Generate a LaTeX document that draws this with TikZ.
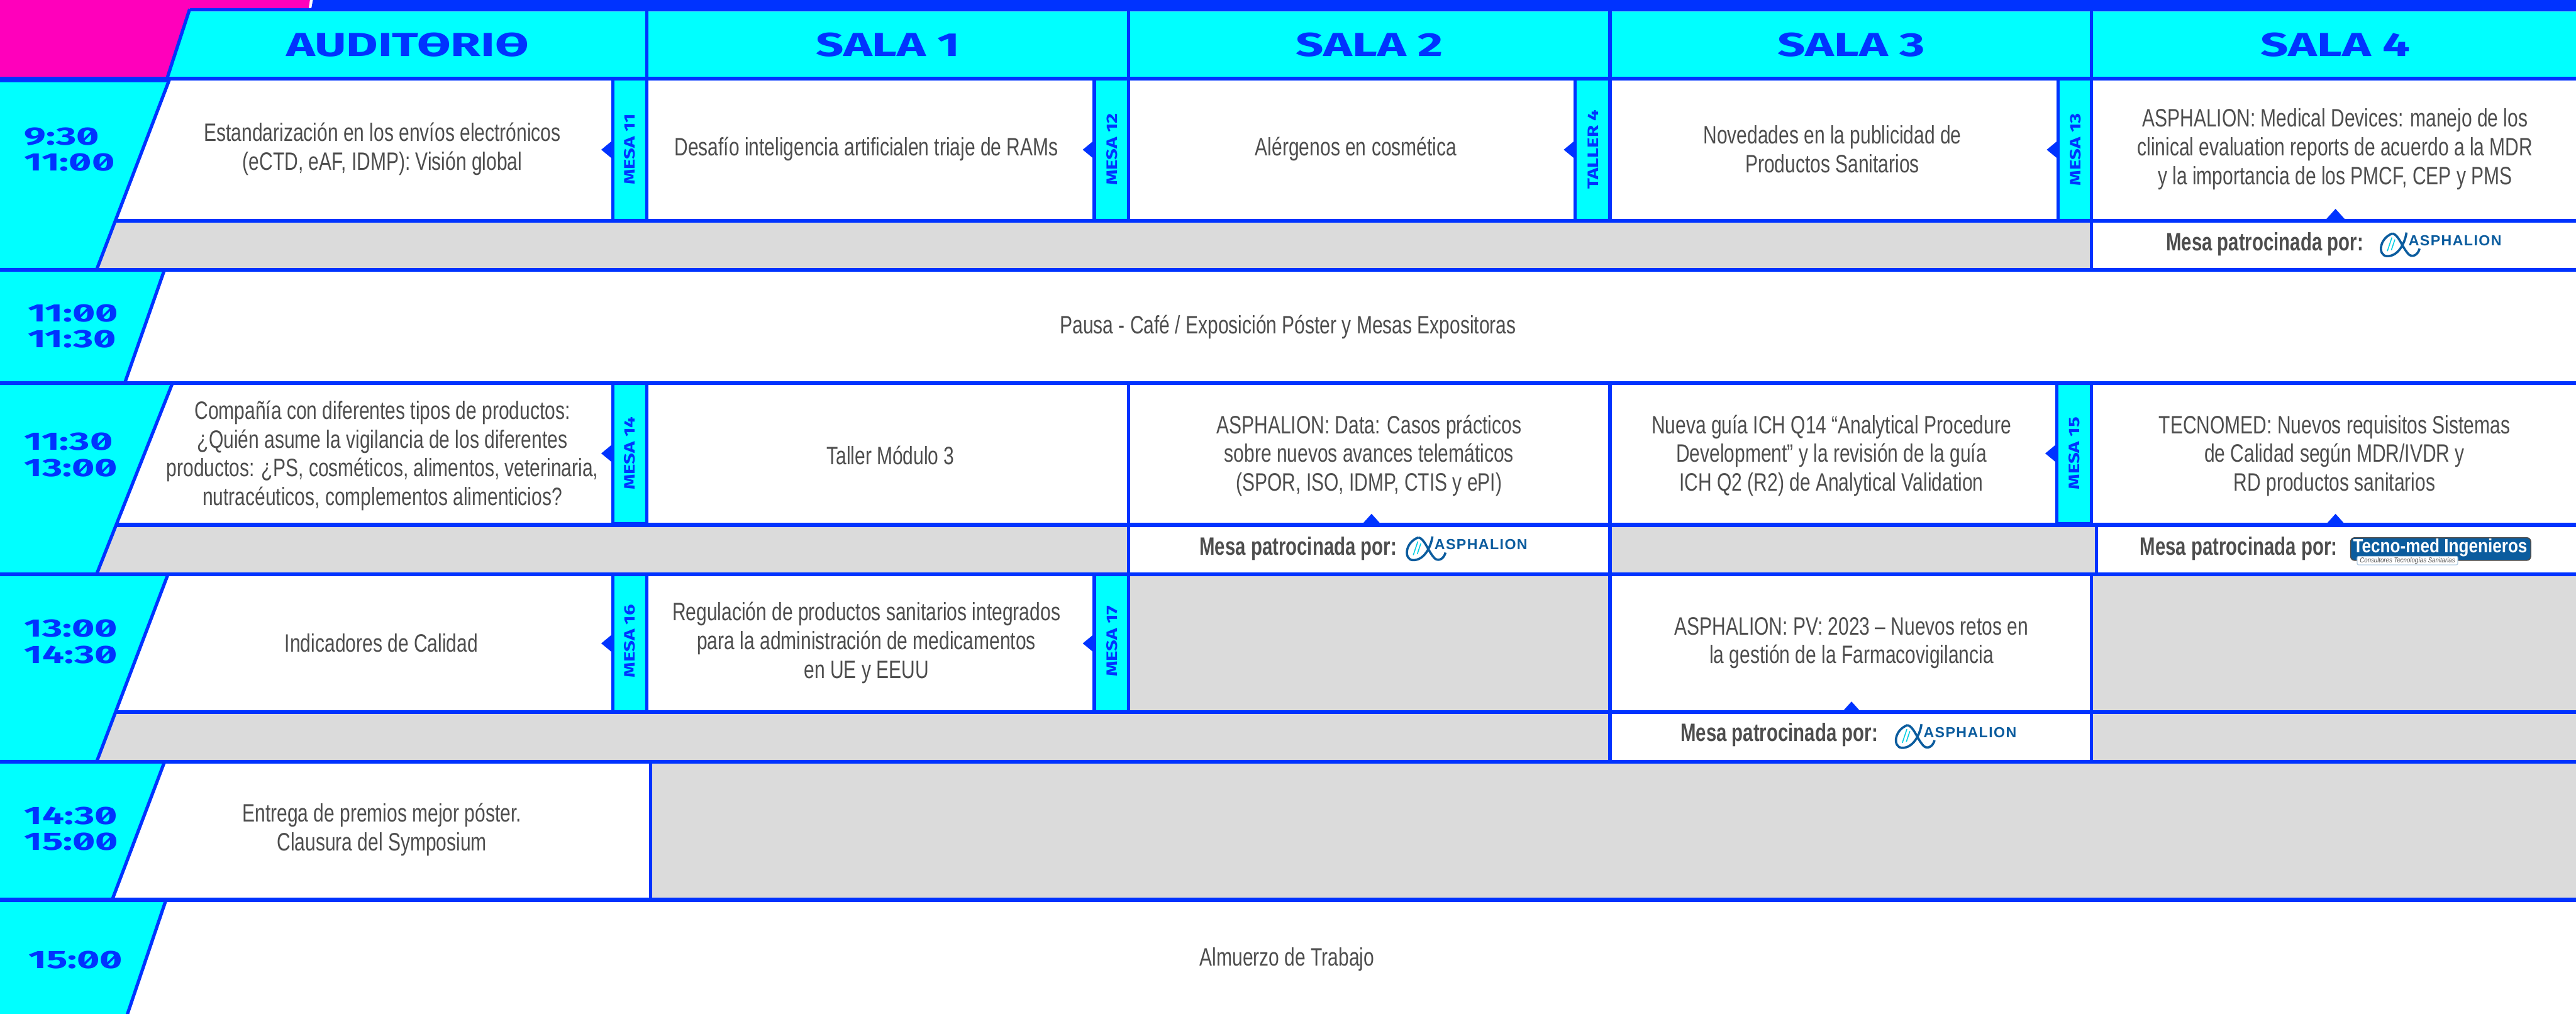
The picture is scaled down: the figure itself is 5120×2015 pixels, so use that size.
\documentclass[tikz,border=0pt]{standalone}
\usepackage{fontspec}
\setmainfont{Liberation Sans}
\newfontfamily\bodyfont[FakeStretch=0.75]{Liberation Sans}
\newfontfamily\sponsfont[FakeStretch=0.735]{Liberation Sans}
\newfontfamily\tecfont[FakeStretch=0.86]{Liberation Sans}
\newfontfamily\brandfont[FakeStretch=1.0,LetterSpace=6]{Liberation Sans}
\newfontfamily\headfont[FakeStretch=1.47]{Fira Sans Bold}
\newfontfamily\hourfont[FakeStretch=1.55]{Fira Sans Bold}
\newfontfamily\mesafont[FakeStretch=1.3]{Fira Sans Bold}
\definecolor{bl}{HTML}{0033FF}
\definecolor{cy}{HTML}{00FFFF}
\definecolor{mg}{HTML}{FF00BB}
\definecolor{gr}{HTML}{DBDBDB}
\definecolor{tx}{HTML}{4D4D4D}
\definecolor{lg}{HTML}{0B5C9E}
\newlength\glw
\newcommand{\zr}{\settowidth{\glw}{0}0\tikz[overlay]\draw[bl,line width=.085em] (-.8\glw,.08em) -- (-.2\glw,.62em);}
\newcommand{\orb}{\settowidth{\glw}{O}O\tikz[overlay]\draw[bl,line width=.085em] (-.9\glw,.345em) -- (-.1\glw,.345em);}
\tikzset{
 x=1pt,y=-1pt,
 hline/.style={draw=bl,line width=8pt},
 vline/.style={draw=bl,line width=6.5pt},
 slant/.style={draw=bl,line width=6.5pt,fill=cy},
 talk/.style={font=\bodyfont\fontsize{50}{57}\selectfont,text=tx,align=center,inner sep=0pt,yshift=-1.5pt},
 spons/.style={font=\sponsfont\bfseries\fontsize{50}{57}\selectfont,text=tx,anchor=west,inner sep=0pt},
 room/.style={font=\headfont\fontsize{66}{66}\selectfont,text=bl,inner sep=0pt},
 hour/.style={font=\hourfont\fontsize{50}{52}\selectfont,text=bl,align=left,inner sep=0pt,anchor=west},
 mesa/.style={font=\mesafont\fontsize{30}{30}\selectfont,text=bl,rotate=90,inner sep=0pt},
 mbox/.style={draw=bl,line width=6.5pt,fill=cy},
 tip/.style={fill=bl,draw=none},
 brand/.style={font=\brandfont\bfseries\fontsize{29}{29}\selectfont,text=lg,inner sep=0pt,anchor=west},
}
\newcommand{\asph}[3]{%
 \draw[lg,line width=4.5pt] (#1+25,#2+2) .. controls (#1+38,#2+4) and (#1+44,#2+30) .. (#1+58,#2+44) .. controls (#1+66,#2+50) and (#1+76,#2+44) .. (#1+79,#2+32);
 \draw[lg,line width=4.5pt] (#1+53,#2+0) .. controls (#1+50,#2+22) and (#1+36,#2+48) .. (#1+14,#2+47) .. controls (#1-4,#2+46) and (#1-2,#2+12) .. (#1+25,#2+2);
 \draw[cy!70!lg,line width=2pt] (#1+15,#2+37) -- (#1+24,#2+10) (#1+23,#2+35) -- (#1+30,#2+14);
 \node[brand] (#3) at (#1+57,#2+16) {ASPHALION};
}
\begin{document}
\begin{tikzpicture}
\useasboundingbox (0,0) rectangle (5120,2015);
\fill[white] (0,0) rectangle (5120,2015);
% top
\fill[mg] (0,0) -- (616,0) -- (613,20) -- (375,20) -- (330,156) -- (0,156) -- cycle;
\fill[bl] (622,0) -- (5120,0) -- (5120,23) -- (375,23) -- (378,16) -- (619,16) -- cycle;
\path[fill=cy] (378,23) -- (5120,23) -- (5120,156) -- (333,156) -- cycle;
\draw[vline] (377,18) -- (332,156);
% grey areas
\fill[gr] (225,439) -- (4157,439) -- (4157,536) -- (192,536) -- cycle;
\fill[gr] (225,1041) -- (2243,1041) -- (2243,1141) -- (192,1141) -- cycle;
\fill[gr] (3200,1041) rectangle (4167,1141);
\fill[gr] (2243,1141) rectangle (3200,1514);
\fill[gr] (225,1416) -- (3200,1416) -- (3200,1514) -- (192,1514) -- cycle;
\fill[gr] (4157,1141) rectangle (5120,1514);
\fill[gr] (1293,1514) rectangle (5120,1788);
% hour columns
\path[slant] (-10,160) -- (336,160) -- (192,536) -- (-10,536) -- cycle;
\path[slant] (-10,536) -- (327,536) -- (248,761) -- (-10,761) -- cycle;
\path[slant] (-10,761) -- (343,761) -- (192,1141) -- (-10,1141) -- cycle;
\path[slant] (-10,1141) -- (334,1141) -- (192,1514) -- (-10,1514) -- cycle;
\path[slant] (-10,1514) -- (327,1514) -- (223,1788) -- (-10,1788) -- cycle;
\path[slant] (-10,1788) -- (330,1788) -- (250,2025) -- (-10,2025) -- cycle;
% mesa boxes
\foreach \xa/\xb/\ya/\yb in {1218/1286/156/439,2175/2243/156/439,3131/3200/156/439,4091/4157/156/439,1218/1286/761/1041,4088/4157/761/1041,1218/1286/1141/1416,2175/2243/1141/1416}{
 \path[mbox] (\xa,\ya) rectangle (\xb,\yb);
 \fill[tip] (\xa,{(\ya+\yb)/2-19}) -- (\xa-23,{(\ya+\yb)/2}) -- (\xa,{(\ya+\yb)/2+19}) -- cycle;
}
% verticals
\foreach \x in {1286,2243,3200,4157}{
 \draw[vline] (\x,23) -- (\x,439);
 \draw[vline] (\x,761) -- (\x,1041);
 \draw[vline] (\x,1141) -- (\x,1416);
}
\draw[vline] (4157,439) -- (4157,536);
\draw[vline] (2243,1041) -- (2243,1141);
\draw[vline] (3200,1041) -- (3200,1141);
\draw[vline] (4167,1041) -- (4167,1141);
\draw[vline] (3200,1416) -- (3200,1514);
\draw[vline] (4157,1416) -- (4157,1514);
\draw[vline] (1293,1514) -- (1293,1788);
% horizontals
\draw[hline] (0,156) -- (5120,156);
\draw[hline] (230,439) -- (5120,439);
\draw[hline] (0,536) -- (5120,536);
\draw[hline] (0,761) -- (5120,761);
\draw[hline] (230,1043) -- (5120,1043);
\draw[hline] (0,1141) -- (5120,1141);
\draw[hline] (230,1415) -- (5120,1415);
\draw[hline] (0,1514) -- (5120,1514);
\draw[hline] (0,1788) -- (5120,1788);
% up tips
\foreach \x/\y in {4642/435,2726/1041,4642/1041,3680/1414}{
 \fill[tip] (\x-18,\y) -- (\x,\y-20) -- (\x+18,\y) -- cycle;
}
% headers
\node[room] (r0) at (810,89) {AUDIT\orb RI\orb};
\node[room] (r1) at (1765,89) {SALA 1};
\node[room] (r2) at (2722,89) {SALA 2};
\node[room] (r3) at (3680,89) {SALA 3};
\node[room] (r4) at (4642,89) {SALA 4};
% hours
\node[hour] (h1) at (48,297) {9:3\zr\\11:\zr\zr};
\node[hour] (h2) at (55,648) {11:\zr\zr\\11:3\zr};
\node[hour] (h3) at (48,904) {11:3\zr\\13:\zr\zr};
\node[hour] (h4) at (48,1275) {13:\zr\zr\\14:3\zr};
\node[hour] (h5) at (48,1647) {14:3\zr\\15:\zr\zr};
\node[hour] (h6) at (57,1908) {15:\zr\zr};
% mesa labels
\node[mesa] (m1) at (1251,297) {MESA 11};
\node[mesa] (m2) at (2210,297) {MESA 12};
\node[mesa] (m3) at (3166,297) {TALLER 4};
\node[mesa] (m4) at (4125,297) {MESA 13};
\node[mesa] (m5) at (1251,901) {MESA 14};
\node[mesa] (m6) at (4123,901) {MESA 15};
\node[mesa] (m7) at (1251,1274) {MESA 16};
\node[mesa] (m8) at (2210,1274) {MESA 17};
% talks
\node[talk] (t1) at (760,295) {Estandarización en los envíos electrónicos\\(eCTD, eAF, IDMP): Visión global};
\node[talk] (t2) at (1722,295) {Desafío inteligencia artificialen triaje de RAMs};
\node[talk] (t3) at (2695,295) {Alérgenos en cosmética};
\node[talk] (t4) at (3642,295) {Novedades en la publicidad de\\Productos Sanitarios};
\node[talk] (t5) at (4641,295) {ASPHALION: Medical Devices: manejo de los\\clinical evaluation reports de acuerdo a la MDR\\y la importancia de los PMCF, CEP y PMS};
\node[talk] (p1) at (2560,648) {Pausa - Café / Exposición Póster y Mesas Expositoras};
\node[talk] (t6) at (760,904) {Compañía con diferentes tipos de productos:\\¿Quién asume la vigilancia de los diferentes\\productos: ¿PS, cosméticos, alimentos, veterinaria,\\nutracéuticos, complementos alimenticios?};
\node[talk] (t7) at (1770,904) {Taller Módulo 3};
\node[talk] (t8) at (2721,904) {ASPHALION: Data: Casos prácticos\\sobre nuevos avances telemáticos\\(SPOR, ISO, IDMP, CTIS y ePI)};
\node[talk] (t9) at (3640,904) {Nueva guía ICH Q14 “Analytical Procedure\\Development” y la revisión de la guía\\ICH Q2 (R2) de Analytical Validation};
\node[talk] (t10) at (4640,904) {TECNOMED: Nuevos requisitos Sistemas\\de Calidad según MDR/IVDR y\\RD productos sanitarios};
\node[talk] (t11) at (758,1276) {Indicadores de Calidad};
\node[talk] (t12) at (1722,1276) {Regulación de productos sanitarios integrados\\para la administración de medicamentos\\en UE y EEUU};
\node[talk] (t13) at (3680,1276) {ASPHALION: PV: 2023 – Nuevos retos en\\la gestión de la Farmacovigilancia};
\node[talk] (t14) at (759,1647) {Entrega de premios mejor póster.\\Clausura del Symposium};
\node[talk] (t15) at (2558,1905) {Almuerzo de Trabajo};
% sponsors
\node[spons] (s1) at (4305,485) {Mesa patrocinada por:};
\asph{4730}{462}{l1}
\node[spons] (s2) at (2384,1090) {Mesa patrocinada por:};
\asph{2794}{1066}{l2}
\node[spons] (s3) at (4253,1090) {Mesa patrocinada por:};
\node[fill=lg,draw=black!70,line width=2pt,rounded corners=8pt,minimum width=358pt,minimum height=45pt,inner sep=0pt] (l3) at (4851,1091) {};
\node[text=white,font=\tecfont\bfseries\fontsize{38}{38}\selectfont,inner sep=0pt] (l3t) at (4850,1088) {Tecno-med Ingenieros};
\node[fill=white,draw=lg!30,line width=1.5pt,rounded corners=3pt,font=\tecfont\itshape\fontsize{14}{14}\selectfont,text=tx,inner sep=1pt,minimum width=200pt,minimum height=17pt] (l3b) at (4785,1114) {Consultores Tecnologías Sanitarias};
\node[spons] (s4) at (3340,1460) {Mesa patrocinada por:};
\asph{3766}{1439}{l4}
\end{tikzpicture}
\end{document}
